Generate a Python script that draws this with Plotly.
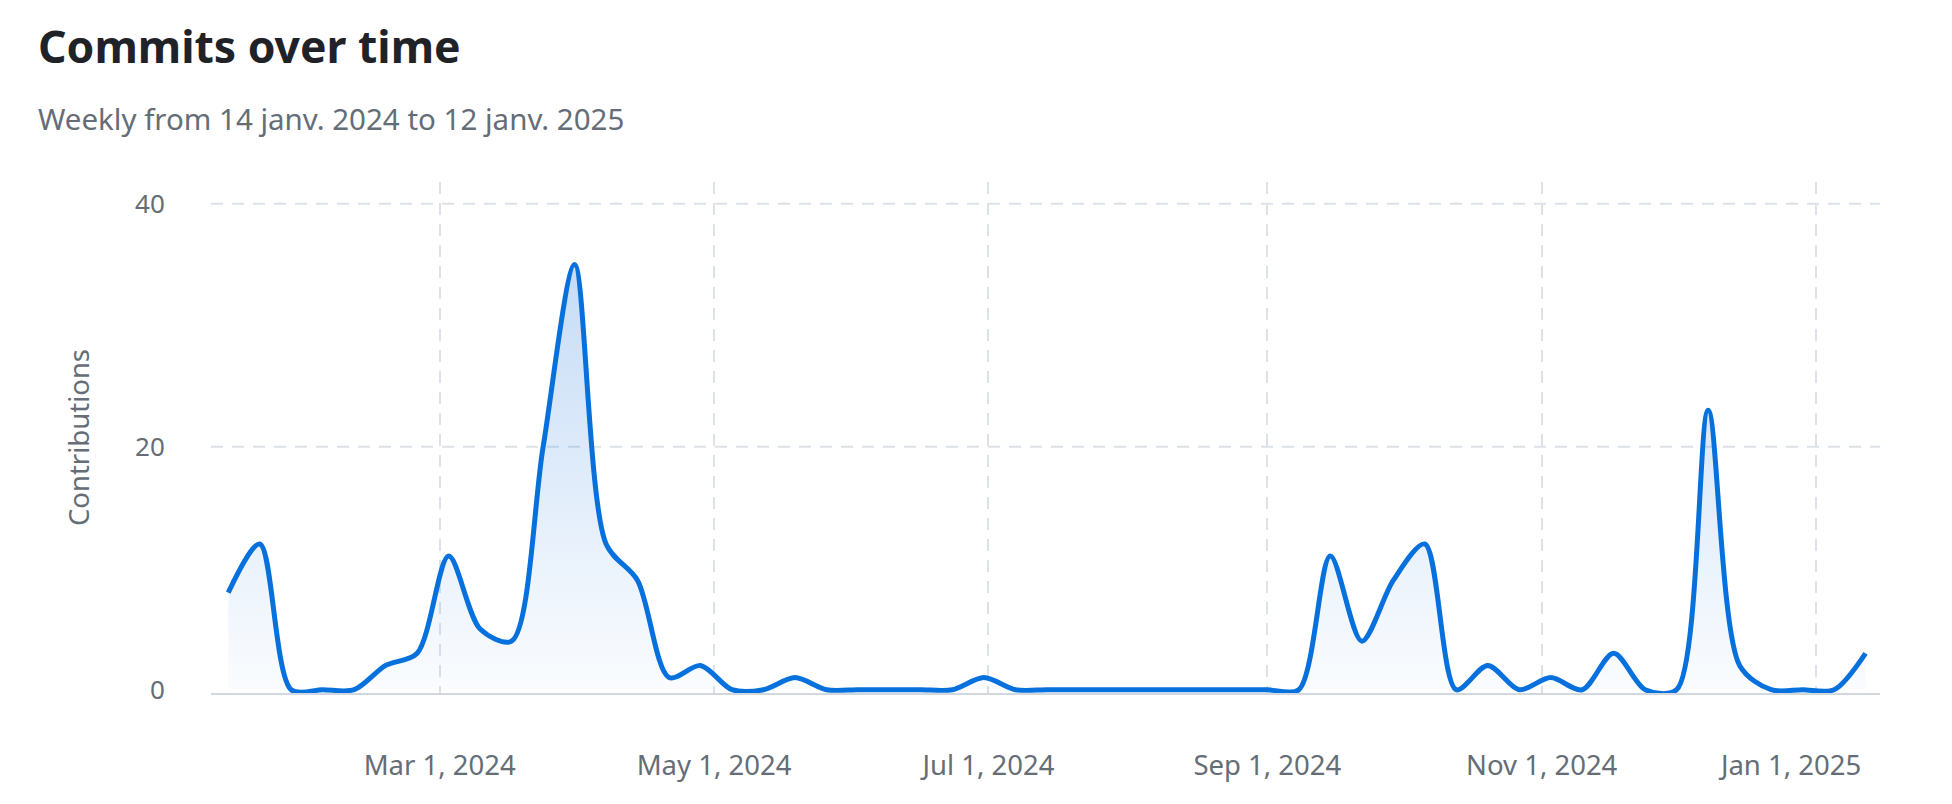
import plotly.graph_objects as go

# ---- data ----
weeks = [
    "2024-01-14", "2024-01-21", "2024-01-28",
    "2024-02-04", "2024-02-11", "2024-02-18", "2024-02-25",
    "2024-03-03", "2024-03-10", "2024-03-17", "2024-03-24", "2024-03-31",
    "2024-04-07", "2024-04-14", "2024-04-21", "2024-04-28",
    "2024-05-05", "2024-05-12", "2024-05-19", "2024-05-26",
    "2024-06-02", "2024-06-09", "2024-06-16", "2024-06-23", "2024-06-30",
    "2024-07-07", "2024-07-14", "2024-07-21", "2024-07-28",
    "2024-08-04", "2024-08-11", "2024-08-18", "2024-08-25",
    "2024-09-01", "2024-09-08", "2024-09-15", "2024-09-22", "2024-09-29",
    "2024-10-06", "2024-10-13", "2024-10-20", "2024-10-27",
    "2024-11-03", "2024-11-10", "2024-11-17", "2024-11-24",
    "2024-12-01", "2024-12-08", "2024-12-15", "2024-12-22", "2024-12-29",
    "2025-01-05", "2025-01-12",
]
contributions = [
    8, 12, 0,
    0, 0, 2, 3,
    11, 5, 4, 20, 35,
    12, 9, 1, 2,
    0, 0, 1, 0,
    0, 0, 0, 0, 1,
    0, 0, 0, 0,
    0, 0, 0, 0,
    0, 0, 11, 4, 9,
    12, 0, 2, 0,
    1, 0, 3, 0,
    0, 23, 2, 0, 0,
    0, 3,
]
x_tick_dates = ["2024-03-01", "2024-05-01", "2024-07-01",
                "2024-09-01", "2024-11-01", "2025-01-01"]
x_tick_labels = ["Mar 1, 2024", "May 1, 2024", "Jul 1, 2024",
                 "Sep 1, 2024", "Nov 1, 2024", "Jan 1, 2025"]
y_tick_values = [0, 20, 40]
y_grid_values = [20, 40]
x_range = ["2024-01-10 04:00", "2025-01-15 05:00"]
y_range = [-0.27, 41.8]

title_text = "Commits over time"
subtitle_text = "Weekly from 14 janv. 2024 to 12 janv. 2025"
y_title = "Contributions"

# ---- style ----
FONT = "Noto Sans, Open Sans, sans-serif"
BLUE = "#0670dc"
GRID = "#dde2e8"
MUTED = "#656d76"
DARK = "#1f2328"
DASH = "12px,9px"

W, H = 1952, 804
ML, MR, MT, MB = 211, 72, 182, 111
PW = W - ML - MR
PH = H - MT - MB

# last label is kept inside the plot edge (shifted left) as in the reference
tick_text = list(x_tick_labels)
tick_text[-1] = tick_text[-1] + "\u00a0" * 7

fig = go.Figure()
fig.add_trace(go.Scatter(
    x=weeks,
    y=contributions,
    mode="lines",
    line=dict(color=BLUE, width=5, shape="spline", smoothing=0.85),
    fill="tozeroy",
    fillgradient=dict(
        type="vertical",
        colorscale=[[0, "rgba(9,105,218,0.02)"], [1, "rgba(9,105,218,0.24)"]],
        start=0,
        stop=36,
    ),
    hoverinfo="skip",
    showlegend=False,
))

shapes = [
    dict(type="line", xref="paper", yref="y", x0=0, x1=1, y0=v, y1=v,
         line=dict(color=GRID, width=2, dash=DASH), layer="below")
    for v in y_grid_values
]

fig.update_layout(
    width=W,
    height=H,
    margin=dict(l=ML, r=MR, t=MT, b=MB, pad=0),
    paper_bgcolor="white",
    plot_bgcolor="white",
    font=dict(family=FONT, color=MUTED),
    showlegend=False,
    shapes=shapes,
    xaxis=dict(
        type="date",
        range=x_range,
        tickvals=x_tick_dates,
        ticktext=tick_text,
        showgrid=True,
        gridcolor=GRID,
        gridwidth=2,
        griddash=DASH,
        zeroline=False,
        showline=True,
        linecolor="#d0d7de",
        linewidth=2,
        ticks="outside",
        ticklen=47,
        tickcolor="rgba(0,0,0,0)",
        tickfont=dict(family=FONT, size=27.5, color=MUTED),
        fixedrange=True,
    ),
    yaxis=dict(
        range=y_range,
        tickvals=y_tick_values,
        showgrid=False,
        zeroline=False,
        showline=False,
        ticks="outside",
        ticklen=40,
        tickcolor="rgba(0,0,0,0)",
        tickfont=dict(family=FONT, size=26, color=MUTED),
        title=dict(text=y_title, font=dict(family=FONT, size=27.5, color=MUTED), standoff=37),
        fixedrange=True,
    ),
    annotations=[
        dict(
            text=title_text,
            xref="paper", yref="paper",
            x=(36 - ML) / PW, y=(H - MB - 45) / PH,
            xanchor="left", yanchor="middle",
            showarrow=False,
            font=dict(family=FONT, size=44.5, color=DARK, weight=700),
        ),
        dict(
            text=subtitle_text,
            xref="paper", yref="paper",
            x=(36 - ML) / PW, y=(H - MB - 118) / PH,
            xanchor="left", yanchor="middle",
            showarrow=False,
            font=dict(family=FONT, size=29.5, color=MUTED),
        ),
    ],
)

fig.write_html(
    "out.html",
    config={"displayModeBar": False, "staticPlot": True},
    post_script="document.body.style.margin='0';document.body.style.overflow='hidden';",
)
